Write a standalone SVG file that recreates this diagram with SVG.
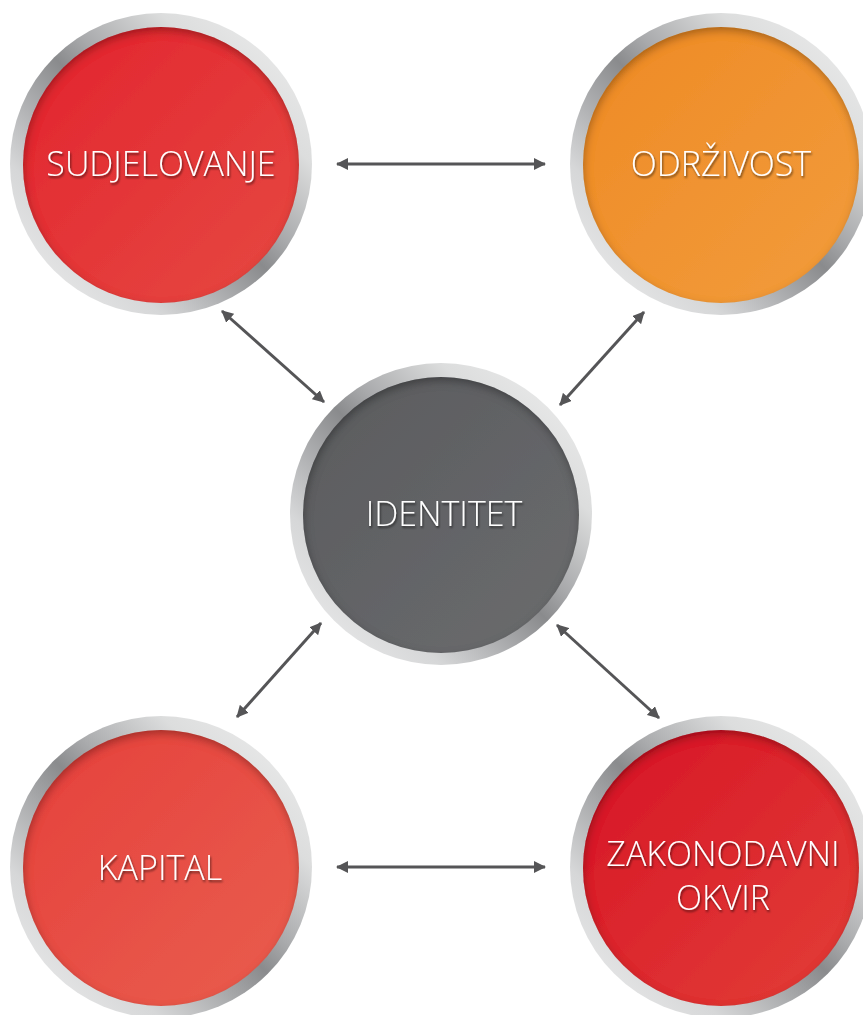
<svg xmlns="http://www.w3.org/2000/svg" width="863" height="1015" viewBox="0 0 863 1015">
<defs>
<style>
.ring{fill:url(#ringG);}
.lbl{font-family:"Open Sans","Noto Sans","DejaVu Sans",sans-serif;font-weight:300;font-size:34px;fill:#ffffff;text-anchor:middle;filter:url(#tshadow);}
.conn{stroke:#555557;stroke-width:3;fill:none;marker-start:url(#ah);marker-end:url(#ah);}
</style>
<linearGradient id="ringG" x1="0" y1="1" x2="1" y2="0">
<stop offset="0" stop-color="#f2f2f2"/>
<stop offset="0.25" stop-color="#d6d7d8"/>
<stop offset="0.42" stop-color="#a2a3a5"/>
<stop offset="0.5" stop-color="#8a8b8d"/>
<stop offset="0.58" stop-color="#a9aaac"/>
<stop offset="0.75" stop-color="#dcdddd"/>
<stop offset="1" stop-color="#f2f2f2"/>
</linearGradient>
<linearGradient id="gTL" x1="0" y1="0" x2="1" y2="1">
<stop offset="0" stop-color="#e2232e"/>
<stop offset="1" stop-color="#e64a42"/>
</linearGradient>
<linearGradient id="gTR" x1="0" y1="0" x2="1" y2="1">
<stop offset="0" stop-color="#ee8a25"/>
<stop offset="1" stop-color="#f29c3c"/>
</linearGradient>
<linearGradient id="gC" x1="0" y1="0" x2="1" y2="1">
<stop offset="0" stop-color="#5a5b5e"/>
<stop offset="1" stop-color="#6b6c6e"/>
</linearGradient>
<linearGradient id="gBL" x1="0" y1="0" x2="1" y2="1">
<stop offset="0" stop-color="#e5403c"/>
<stop offset="1" stop-color="#e95e4e"/>
</linearGradient>
<linearGradient id="gBR" x1="0" y1="0" x2="1" y2="1">
<stop offset="0" stop-color="#d61426"/>
<stop offset="1" stop-color="#e33f37"/>
</linearGradient>
<filter id="inset" x="-10%" y="-10%" width="120%" height="120%">
<feFlood flood-color="#000" flood-opacity="0.55"/>
<feComposite in2="SourceAlpha" operator="out"/>
<feGaussianBlur stdDeviation="4"/>
<feOffset dx="1" dy="4"/>
<feComposite in2="SourceAlpha" operator="in" result="sh"/>
<feMerge><feMergeNode in="SourceGraphic"/><feMergeNode in="sh"/></feMerge>
</filter>
<filter id="tshadow" x="-10%" y="-30%" width="120%" height="160%">
<feDropShadow dx="1" dy="2" stdDeviation="1.2" flood-color="#000" flood-opacity="0.55"/>
</filter>
<marker id="ah" viewBox="0 0 12 12" markerWidth="12" markerHeight="12" markerUnits="userSpaceOnUse" refX="11" refY="6" orient="auto-start-reverse">
<path d="M0,0 L12,6 L0,12 z" fill="#555557"/>
</marker>
</defs>
<rect width="863" height="1015" fill="#ffffff"/>
<g id="connectors">
<line class="conn" x1="337" y1="164" x2="545" y2="164"/>
<line class="conn" x1="337" y1="867" x2="545" y2="867"/>
<line class="conn" x1="222" y1="311" x2="324" y2="402"/>
<line class="conn" x1="644" y1="312" x2="560" y2="405"/>
<line class="conn" x1="321" y1="623" x2="237" y2="717"/>
<line class="conn" x1="557" y1="625" x2="659" y2="718"/>
</g>
<g id="sudjelovanje">
<circle class="ring" cx="161" cy="164" r="151"/>
<circle cx="161" cy="165" r="138" fill="url(#gTL)" filter="url(#inset)"/>
<text class="lbl" x="161" y="176">SUDJELOVANJE</text>
</g>
<g id="odrzivost">
<circle class="ring" cx="721" cy="164" r="151"/>
<circle cx="721" cy="165" r="138" fill="url(#gTR)" filter="url(#inset)"/>
<text class="lbl" x="721" y="176">ODRŽIVOST</text>
</g>
<g id="identitet">
<circle class="ring" cx="441" cy="514" r="151"/>
<circle cx="441" cy="515" r="138" fill="url(#gC)" filter="url(#inset)"/>
<text class="lbl" x="444" y="526">IDENTITET</text>
</g>
<g id="kapital">
<circle class="ring" cx="161" cy="867" r="151"/>
<circle cx="161" cy="868" r="138" fill="url(#gBL)" filter="url(#inset)"/>
<text class="lbl" x="160" y="880">KAPITAL</text>
</g>
<g id="zakonodavni-okvir">
<circle class="ring" cx="721" cy="867" r="151"/>
<circle cx="721" cy="868" r="138" fill="url(#gBR)" filter="url(#inset)"/>
<text class="lbl" x="723" y="866">ZAKONODAVNI</text>
<text class="lbl" x="723" y="910">OKVIR</text>
</g>
</svg>
